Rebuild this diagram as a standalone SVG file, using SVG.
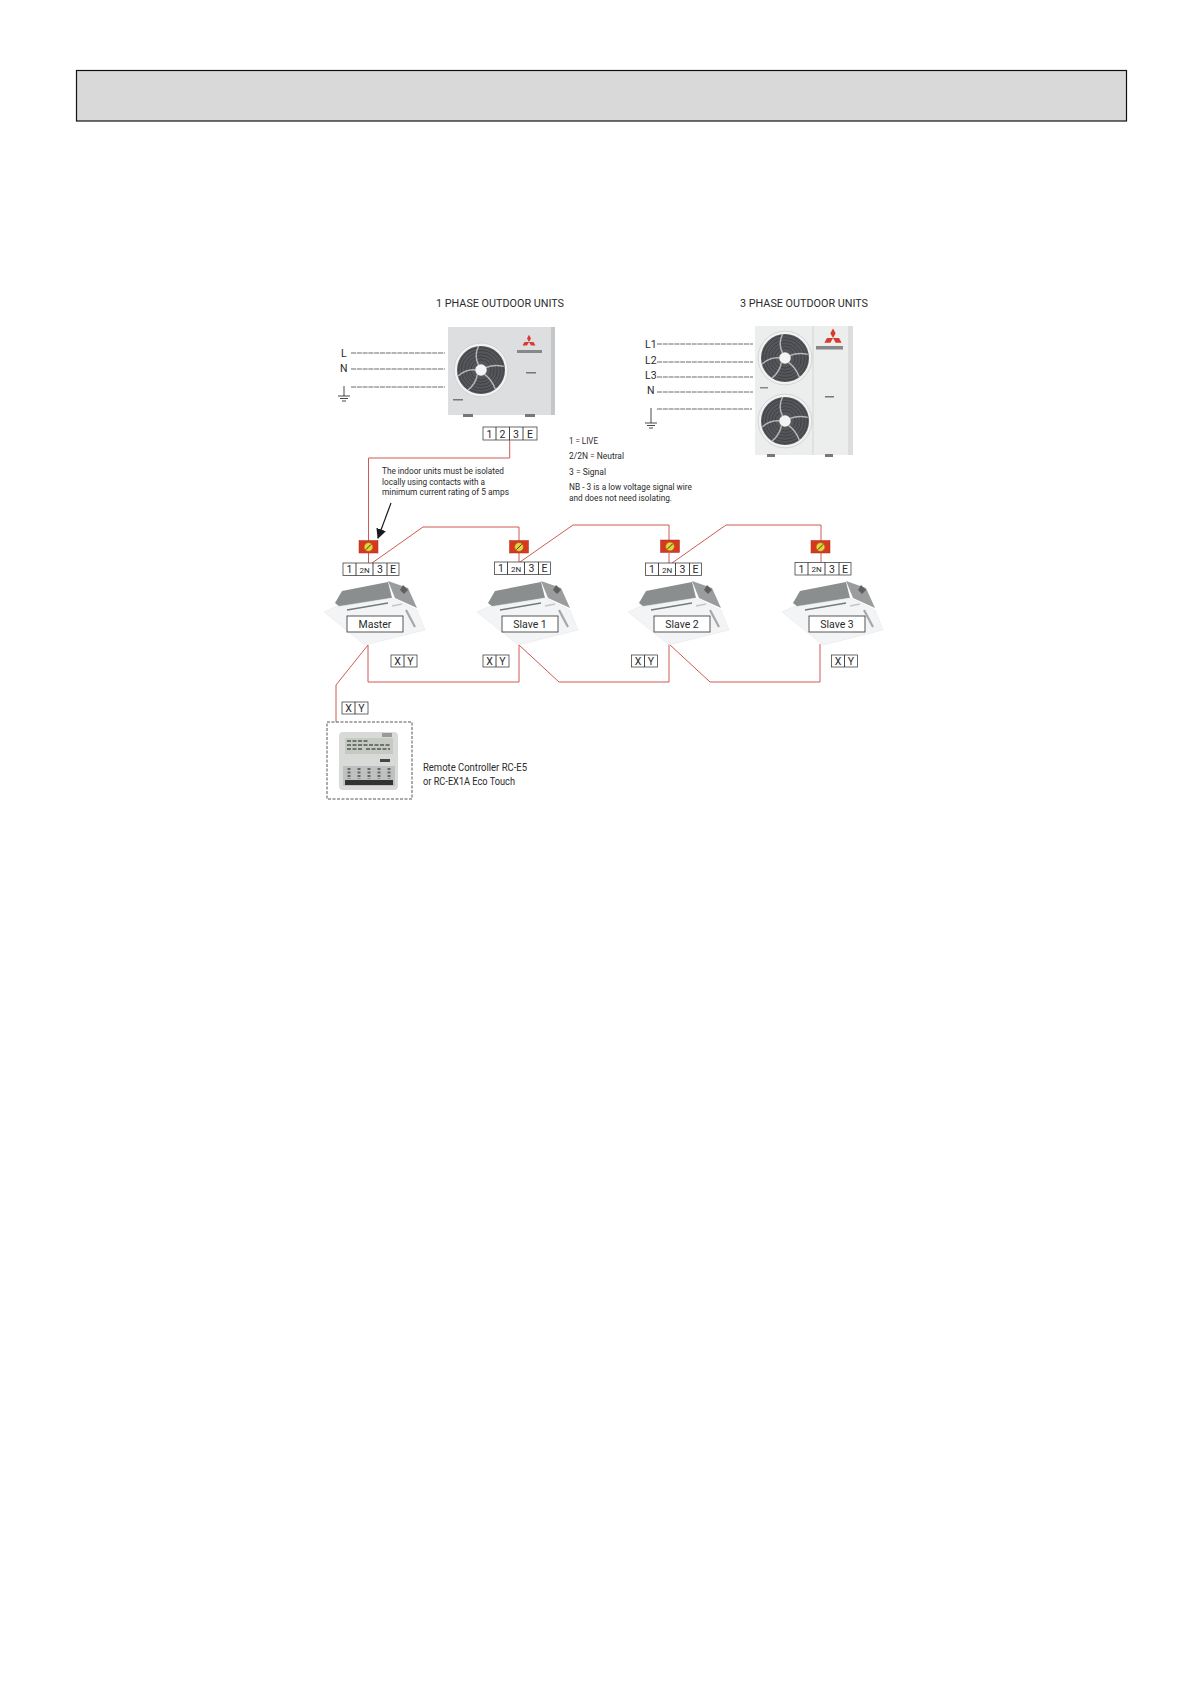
<svg xmlns="http://www.w3.org/2000/svg" xmlns:xlink="http://www.w3.org/1999/xlink" width="1190" height="1684" viewBox="0 0 1190 1684">
<style>
text{font-family:Roboto,"Liberation Sans",sans-serif;fill:#2a2a2a;font-size:9.6px}
.t{font-size:11.4px}
.lab{font-size:10.5px}
.term{fill:#fff;stroke:#444;stroke-width:.8}
.num{font-size:10.5px;text-anchor:middle}
.num2{font-size:8px;text-anchor:middle}
.w{fill:none;stroke:#cf5a55;stroke-width:1}
.d{fill:none;stroke:#444;stroke-width:.8;stroke-dasharray:5 .8}
.g{fill:none;stroke:#333;stroke-width:.9}
.box{fill:#fff;stroke:#444;stroke-width:.9}
</style>
<defs>
<filter id="soft" x="-5%" y="-5%" width="110%" height="110%"><feGaussianBlur stdDeviation="0.6"/></filter>
<g id="fan">
<circle r="1.12" fill="#f1f2f2" stroke="#c8cacb" stroke-width=".03"/>
<circle r="1" fill="#55575b"/>
<g fill="none" stroke="#3a3b3f" stroke-width=".035">
<circle r=".42"/><circle r=".55"/><circle r=".68"/><circle r=".81"/><circle r=".93"/>
</g>
<g stroke="#b4b6b8" stroke-width=".06" fill="none">
<path d="M-.1-.2Q-.3-.6-.1-1M.2-.1Q.55-.25.95-.15M.15.18Q.45.4.6.8M-.15.18Q-.2.55-.55.85M-.22 0Q-.6-.05-.95.25"/>
</g>
<circle r=".24" fill="#f4f4f4"/>
</g>
<g id="logo"><path d="M0-8L2.200-4 0 0-2.200-4ZM0 0H5L7.200 4H2.200ZM0 0H-5L-7.200 4H-2.200Z" fill="#d83a30"/></g>
<g id="cassette" filter="url(#soft)">
<path d="M335 603L342 591 388 582 392 598 340 607Z" fill="#8b8e8e"/>
<path d="M388 581L408 588 417 608 395 598Z" fill="#9a9c9d"/>
<path d="M403 585L408 590 404 594 400 590Z" fill="#5f6162"/>
<path d="M324 612L335 607 392 598 417 610 425 630 365 645Z" fill="#f3f4f5" stroke="#e4e5e7" stroke-width=".5"/>
<path d="M347 610L388 603" stroke="#777a7c" stroke-width="1.600"/>
<path d="M392 606L402 604" stroke="#c5c6c8" stroke-width="1.500"/>
<path d="M406 610L415 627" stroke="#a5a7a9" stroke-width="2.200"/>
</g>
<g id="t4">
<rect class="term" width="56" height="12.500"/>
<path class="g" d="M13 0V12.500M30 0V12.500M44 0V12.500" stroke-width=".8"/>
<text class="num" x="6.500" y="10">1</text><text class="num2" x="21.500" y="9.500">2N</text><text class="num" x="37" y="10">3</text><text class="num" x="50" y="10">E</text>
</g>
<g id="xy">
<rect class="term" width="26" height="12"/><path class="g" d="M13 0V12"/>
<text class="num" x="6.500" y="10">X</text><text class="num" x="19.500" y="10">Y</text>
</g>
<g id="iso">
<rect x="-9.500" y="-6.500" width="19" height="12.500" fill="#d7391f" stroke="#a8331f" stroke-width=".5"/>
<circle r="4.300" fill="#e8d43a" stroke="#8a7a20" stroke-width=".5"/>
<path d="M-2.600 2.600L2.600-2.600" stroke="#333" stroke-width="1"/>
</g>
<marker id="ah" markerUnits="userSpaceOnUse" markerWidth="10" markerHeight="14" refX="9" refY="7" orient="auto"><path d="M0 2L10 7 0 12Z" fill="#1a1a1a"/></marker>
</defs>
<rect width="1190" height="1684" fill="#fff"/>
<g id="header"><rect x="76.500" y="70.500" width="1050" height="50.500" fill="#d9d9d9" stroke="#111" stroke-width="1.200"/></g>

<g id="connectors">
<path class="w" d="M509.700 440V458H368.500V541M368.500 553V563"/>
<path class="w" d="M372 563L423 527H519V541M519 553V562"/>
<path class="w" d="M520 562L573 525H669V540M669 553V563"/>
<path class="w" d="M672 563L726 525H821V541M821 553V562"/>
<path class="w" d="M368 645V682H519V645L559 682H669V644L710 682H820V644"/>
<path class="w" d="M368 645L336 685V722"/>
<path stroke="#1a1a1a" stroke-width="1.200" fill="none" marker-end="url(#ah)" d="M391 503L378 538"/>
<path class="d" d="M351 353H445M351 369H445M351 387H445M657 344H753M657 362H753M657 377H753M657 392H753M657 409H752"/>
<path class="g" d="M344 386V396M338 396H350M340 398.500H348M342 401H346M651 408V423M645 423H657M647 425.500H655M649 428H653"/>
</g>

<g id="outdoor-1">
<g filter="url(#soft)">
<rect x="448" y="327" width="107" height="88" fill="#dcdedf"/>
<rect x="551" y="327" width="4" height="88" fill="#c4c6c7"/>
<rect x="463" y="414" width="10" height="3" fill="#777"/><rect x="525" y="414" width="10" height="3" fill="#777"/>
<use xlink:href="#fan" transform="translate(481 370) scale(24)"/>
<rect x="517" y="350" width="25" height="3" fill="#888"/>
<rect x="526" y="372" width="10" height="1.500" fill="#777"/>
<rect x="453" y="399" width="10" height="1.500" fill="#777"/>
</g>
<use xlink:href="#logo" transform="translate(529 342) scale(.9)"/>
</g>
<g id="outdoor-3">
<g filter="url(#soft)">
<rect x="755" y="326" width="98" height="129" fill="#eceded"/>
<path d="M813 326V455" stroke="#d4d5d6" stroke-width="1"/>
<rect x="848" y="326" width="5" height="129" fill="#dcddde"/>
<rect x="767" y="454" width="8" height="3" fill="#777"/><rect x="825" y="454" width="8" height="3" fill="#777"/>
<use xlink:href="#fan" transform="translate(785 358) scale(24)"/>
<use xlink:href="#fan" transform="translate(785 421) scale(24)"/>
<rect x="816" y="346" width="27" height="3.500" fill="#888"/>
<rect x="825" y="396" width="9" height="1.500" fill="#777"/>
<rect x="760" y="387" width="8" height="1.500" fill="#888"/>
</g>
<use xlink:href="#logo" transform="translate(833 338) scale(1.200)"/>
</g>

<g id="labels">
<text class="t" x="436" y="307" textLength="128" lengthAdjust="spacingAndGlyphs">1 PHASE OUTDOOR UNITS</text>
<text class="t" x="740" y="307" textLength="128" lengthAdjust="spacingAndGlyphs">3 PHASE OUTDOOR UNITS</text>
<text class="lab" x="341" y="357">L</text><text class="lab" x="340" y="372">N</text>
<text class="lab" x="645" y="348">L1</text><text class="lab" x="645" y="364">L2</text><text class="lab" x="645" y="379">L3</text><text class="lab" x="647" y="394">N</text>
<text x="382" y="474" textLength="122" lengthAdjust="spacingAndGlyphs">The indoor units must be isolated</text>
<text x="382" y="485" textLength="103" lengthAdjust="spacingAndGlyphs">locally using contacts with a</text>
<text x="382" y="495" textLength="127" lengthAdjust="spacingAndGlyphs">minimum current rating of 5 amps</text>
<text x="569" y="444" textLength="29" lengthAdjust="spacingAndGlyphs">1 = LIVE</text>
<text x="569" y="459" textLength="55" lengthAdjust="spacingAndGlyphs">2/2N = Neutral</text>
<text x="569" y="475" textLength="37" lengthAdjust="spacingAndGlyphs">3 = Signal</text>
<text x="569" y="490" textLength="123" lengthAdjust="spacingAndGlyphs">NB - 3 is a low voltage signal wire</text>
<text x="569" y="501" textLength="103" lengthAdjust="spacingAndGlyphs">and does not need isolating.</text>
</g>

<g id="outdoor-terminal">
<rect class="term" x="483" y="427" width="54" height="13"/>
<path class="g" d="M496 427V440M509.500 427V440M523 427V440"/>
<text class="num" x="489.500" y="437.500">1</text><text class="num" x="502.500" y="437.500">2</text><text class="num" x="516" y="437.500">3</text><text class="num" x="530" y="437.500">E</text>
</g>

<g id="master">
<use xlink:href="#iso" x="368.500" y="547"/>
<use xlink:href="#t4" x="343" y="563"/>
<use xlink:href="#cassette"/>
<rect class="box" x="347" y="616" width="56" height="16"/>
<text class="lab" x="375" y="627.500" text-anchor="middle">Master</text>
<use xlink:href="#xy" x="391" y="655"/>
</g>
<g id="slave-1">
<use xlink:href="#iso" x="519" y="547"/>
<use xlink:href="#t4" x="494.500" y="562"/>
<use xlink:href="#cassette" x="153"/>
<rect class="box" x="502" y="616" width="56" height="16"/>
<text class="lab" x="530" y="627.500" text-anchor="middle">Slave 1</text>
<use xlink:href="#xy" x="483" y="655"/>
</g>
<g id="slave-2">
<use xlink:href="#iso" x="670" y="546.500"/>
<use xlink:href="#t4" x="645.500" y="563"/>
<use xlink:href="#cassette" x="304"/>
<rect class="box" x="654" y="616" width="56" height="16"/>
<text class="lab" x="682" y="627.500" text-anchor="middle">Slave 2</text>
<use xlink:href="#xy" x="631.500" y="655"/>
</g>
<g id="slave-3">
<use xlink:href="#iso" x="820.500" y="547"/>
<use xlink:href="#t4" x="795" y="562.500"/>
<use xlink:href="#cassette" x="458"/>
<rect class="box" x="809" y="616" width="56" height="16"/>
<text class="lab" x="837" y="627.500" text-anchor="middle">Slave 3</text>
<use xlink:href="#xy" x="831.500" y="655"/>
</g>

<g id="remote">
<use xlink:href="#xy" x="342" y="702"/>
<rect x="327" y="722" width="85" height="77" fill="#fff" stroke="#444" stroke-width=".9" stroke-dasharray="3 1.500"/>
<g filter="url(#soft)">
<rect x="339" y="732" width="59" height="58" rx="4" fill="#d8dad8"/>
<rect x="345" y="738" width="48" height="16" fill="#c6cbc2"/>
<path d="M347 741H368M347 745H390M347 749H362M366 749H390" stroke="#555" stroke-width="1.500" stroke-dasharray="4 1.500"/>
<rect x="382" y="733" width="10" height="4" fill="#999"/>
<rect x="380" y="759" width="10" height="3" fill="#444"/>
<rect x="343" y="766" width="52" height="20" fill="#bfc1c1"/>
<path d="M349 768V779M359 768V779M369 768V779M379 768V779M389 768V779" stroke="#666" stroke-width="3" stroke-dasharray="2 1.500"/>
<rect x="345" y="780" width="48" height="5" fill="#333"/>
</g>
<text class="lab" x="423" y="771" textLength="104" lengthAdjust="spacingAndGlyphs">Remote Controller RC-E5</text>
<text class="lab" x="423" y="785" textLength="92" lengthAdjust="spacingAndGlyphs">or RC-EX1A Eco Touch</text>
</g>
</svg>
